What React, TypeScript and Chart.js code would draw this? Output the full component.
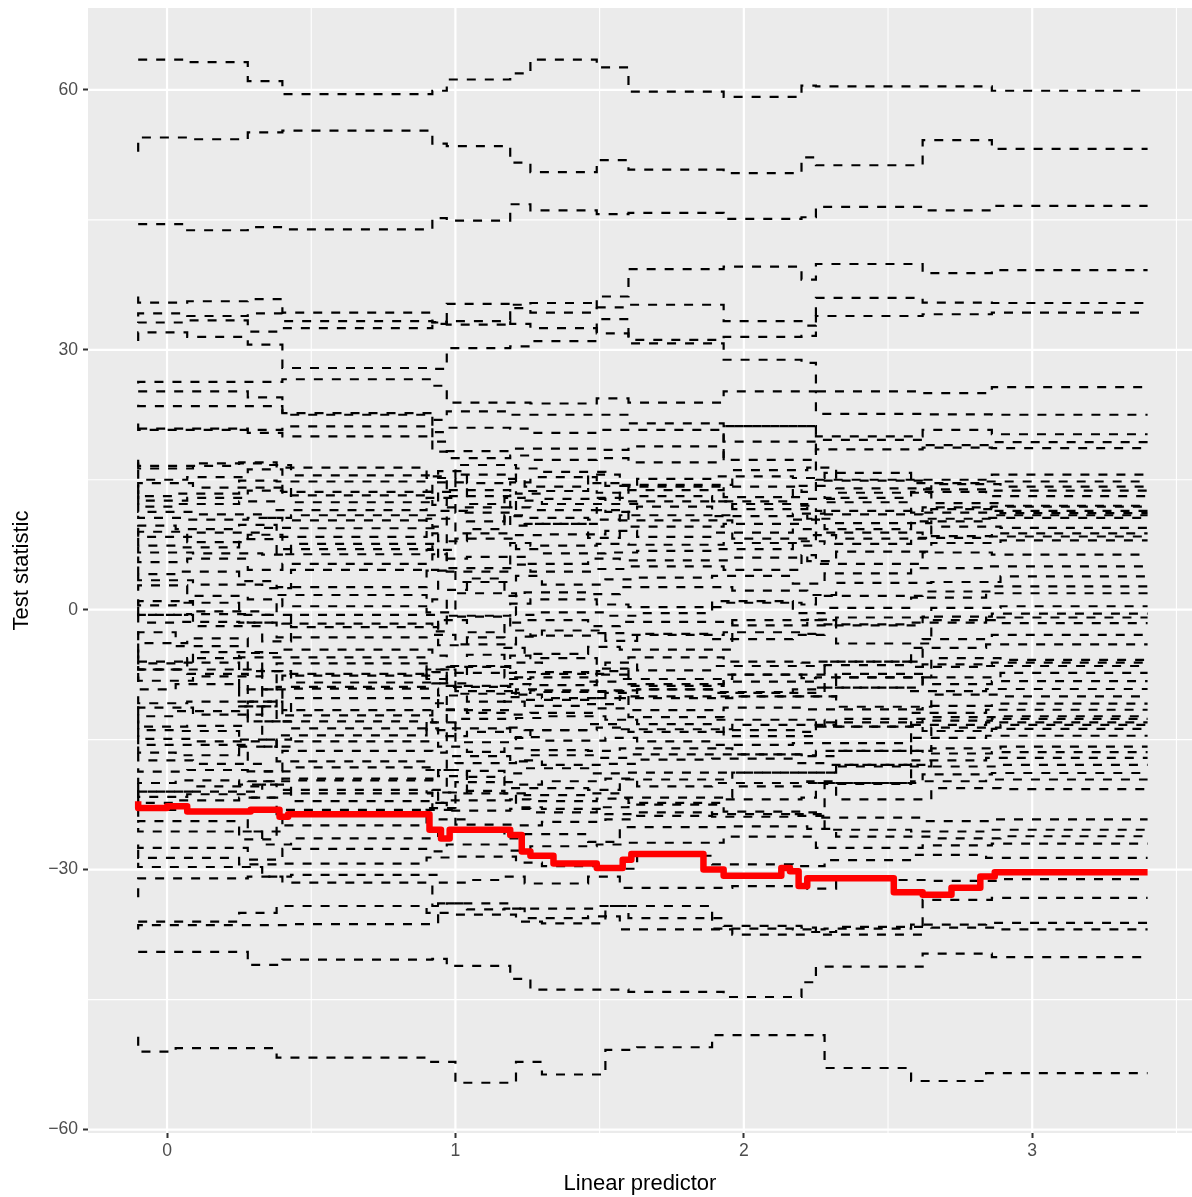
import React, { useEffect, useRef } from "react";
import { Chart, registerables } from "chart.js";

Chart.register(...registerables);

// ---- axis ranges & ticks ----
const X_MIN = -0.274;
const X_MAX = 3.554;
const Y_MIN = -60.4;
const Y_MAX = 69.45;
const X_TICKS = [0, 1, 2, 3];
const X_MINOR = [0.5, 1.5, 2.5, 3.5];
const Y_TICKS = [-60, -30, 0, 30, 60];
const Y_MINOR = [-45, -15, 15, 45];

// ---- step positions (linear predictor values where the permuted statistics change) ----
const X_BREAKS_A = [-0.1, 0.07, 0.28, 0.4, 0.92, 0.97, 1.19, 1.26, 1.49, 1.6, 1.93, 2.2, 2.25, 2.62, 2.86, 3.1, 3.4];
const X_BREAKS_B = [-0.1, 0.03, 0.25, 0.38, 0.9, 1.0, 1.21, 1.3, 1.52, 1.63, 1.89, 2.17, 2.28, 2.58, 2.84, 3.05, 3.4];
const X_BREAKS_C = [-0.1, 0.09, 0.33, 0.43, 0.94, 1.04, 1.17, 1.24, 1.46, 1.57, 1.96, 2.22, 2.32, 2.65, 2.89, 3.14, 3.4];

// ---- observed statistic (red) ----
const RED_X = [-0.1, 0.0, 0.07, 0.29, 0.39, 0.42, 0.91, 0.95, 0.98, 1.19, 1.23, 1.26, 1.34, 1.49, 1.58, 1.61, 1.86, 1.93, 2.13, 2.16, 2.19, 2.22, 2.52, 2.62, 2.72, 2.82, 2.87, 3.1, 3.4];
const RED_Y = [-22.1, -22.9, -22.7, -23.3, -23.1, -23.9, -23.6, -25.4, -26.4, -25.4, -26.0, -27.9, -28.4, -29.3, -29.8, -28.85, -28.2, -30.0, -30.7, -29.8, -30.2, -31.9, -31.0, -32.6, -32.9, -32.1, -30.8, -30.3, -30.3];

// ---- permuted statistics (dashed), values per step segment ----
const TOP_LINES = [
  [63.5, 63.5, 63.2, 61.0, 59.5, 59.9, 61.2, 61.9, 63.5, 62.6, 59.8, 59.2, 60.5, 60.4, 60.4, 59.9],
  [52.85, 54.5, 54.3, 55.1, 55.3, 53.8, 53.5, 51.6, 50.5, 51.9, 50.8, 50.4, 52.2, 51.3, 54.2, 53.2],
  [44.5, 44.5, 43.8, 44.15, 43.9, 45.2, 44.9, 46.8, 46.1, 45.65, 45.8, 45.1, 45.3, 46.5, 46.1, 46.6],
  [36.15, 35.45, 35.6, 35.85, 34.3, 33.15, 35.3, 34.8, 34.3, 36.15, 39.3, 39.6, 38.1, 39.9, 38.85, 39.2],
  [33.85, 34.2, 33.9, 34.2, 33.3, 33.2, 32.9, 35.2, 35.4, 34.9, 35.2, 33.3, 32.8, 36.0, 35.45, 35.4],
  [33.1, 33.15, 33.4, 32.1, 32.5, 33.0, 33.3, 33.0, 32.5, 31.9, 31.15, 31.5, 31.6, 33.9, 34.1, 34.3],
  [31.0, 32.0, 31.5, 30.6, 27.9, 27.8, 30.2, 30.4, 31.0, 33.55, 30.75, 28.85, 28.5, 25.2, 25.0, 25.7],
];

const UPPER_LINES = [
  [26.1, 26.3, 26.3, 26.3, 26.6, 25.85, 23.9, 23.9, 23.8, 24.4, 23.9, 25.2, 25.2, 22.6, 22.55, 22.5],
  [25.2, 25.2, 25.2, 24.5, 22.7, 21.9, 22.9, 22.5, 22.5, 22.5, 21.5, 21.2, 21.2, 20.0, 20.75, 20.25],
  [23.65, 23.5, 23.5, 23.5, 22.5, 20.5, 21.0, 20.9, 20.4, 20.75, 20.75, 19.4, 19.4, 19.6, 19.0, 19.35],
  [21.5, 20.75, 20.75, 20.75, 21.15, 19.4, 18.3, 18.6, 18.6, 18.45, 18.85, 17.3, 17.3, 18.5, 18.7, 18.65],
  [20.9, 20.9, 20.9, 20.4, 20.0, 18.25, 17.5, 17.8, 17.3, 17.5, 17.0, 21.2, 21.2, 15.0, 15.0, 15.6],
];

const DENSE_LINES_A = [
  [17.3, 16.6, 16.6, 17.0, 16.4, 15.2, 16.7, 16.3, 15.9, 14.3, 15.1, 15.4, 15.2, 15.8, 14.6, 14.8],
  [17.0, 16.3, 16.9, 16.7, 15.5, 16.0, 14.6, 15.1, 14.2, 15.6, 14.4, 16.1, 16.4, 14.0, 14.5, 14.2],
  [16.15, 15.0, 15.3, 16.2, 13.2, 15.4, 13.1, 14.7, 15.3, 13.5, 13.8, 14.2, 13.6, 14.9, 13.9, 13.75],
  [14.4, 13.1, 13.4, 14.9, 14.8, 13.6, 15.6, 13.4, 12.8, 12.2, 13.1, 12.5, 14.3, 12.9, 13.6, 13.1],
  [14.1, 14.6, 14.1, 14.1, 12.4, 14.7, 12.2, 12.9, 13.7, 14.6, 12.5, 11.6, 12.8, 13.5, 12.3, 12.0],
  [13.8, 12.6, 12.9, 13.75, 13.6, 12.1, 13.8, 11.8, 11.5, 12.9, 14.2, 13.0, 12.0, 11.4, 11.8, 11.9],
  [13.15, 11.9, 12.2, 12.5, 11.5, 12.9, 11.2, 12.6, 12.2, 11.3, 11.9, 10.8, 11.1, 12.4, 11.2, 11.4],
  [12.3, 11.3, 11.0, 10.6, 10.9, 11.4, 10.2, 10.9, 10.6, 10.4, 10.9, 12.2, 10.5, 10.0, 11.6, 11.15],
  [10.85, 10.6, 10.4, 10.6, 10.3, 9.6, 11.8, 9.7, 9.9, 11.5, 9.6, 9.9, 9.3, 11.0, 10.5, 10.9],
  [9.8, 9.7, 9.3, 9.8, 8.4, 10.5, 8.8, 8.6, 8.7, 9.1, 8.4, 8.9, 10.4, 9.3, 10.2, 10.6],
  [9.45, 8.4, 8.9, 9.45, 9.4, 7.9, 9.3, 10.8, 9.9, 8.3, 10.3, 8.2, 8.6, 8.2, 9.6, 9.45],
  [8.65, 9.0, 7.8, 8.65, 7.0, 8.8, 4.4, 7.7, 7.4, 7.6, 7.5, 7.7, 7.4, 8.9, 8.5, 8.8],
  [8.3, 7.4, 7.2, 8.15, 6.4, 6.9, 8.2, 7.0, 6.5, 6.6, 6.8, 7.0, 7.9, 7.6, 8.3, 8.45],
  [7.3, 6.6, 6.5, 6.35, 7.6, 5.9, 6.1, 6.1, 5.3, 5.9, 5.7, 6.0, 5.6, 6.7, 7.7, 8.0],
  [6.15, 5.5, 5.9, 4.6, 5.3, 6.4, 4.8, 5.2, 4.4, 4.7, 5.0, 4.6, 6.3, 5.3, 6.6, 6.35],
  [5.0, 4.1, 4.4, 3.3, 2.6, 4.5, 3.2, 3.9, 2.9, 3.5, 3.7, 3.9, 3.0, 4.2, 4.8, 5.0],
  [4.0, 3.4, 2.9, 2.5, 4.6, 2.3, 3.6, 1.6, 2.0, 1.8, 2.6, 2.2, 1.7, 3.1, 3.2, 3.85],
  [2.2, 2.8, 1.6, 1.2, 0.4, 1.2, -0.7, 0.7, 1.2, 0.6, 0.3, 0.8, 0.6, 1.6, 2.1, 2.7],
  [1.2, 0.5, 0.8, -0.6, 1.7, -0.3, 1.9, -0.6, -0.3, -0.7, -0.4, 1.0, -0.4, 0.2, 1.4, 1.9],
  [0.6, 1.0, -0.2, -0.6, -2.0, -1.2, -2.6, -1.5, -1.2, -1.9, -1.4, -1.8, -1.2, -0.9, 0.2, 0.4],
  [0.35, -0.6, -0.5, -1.5, -1.6, -2.5, -0.8, -2.4, -3.0, -2.7, -2.9, -2.6, -2.8, -1.8, -0.8, -0.45],
];

const DENSE_LINES_B = [
  [-0.45, -1.5, -1.4, -1.5, -3.2, -2.9, -4.0, -3.1, -2.4, -3.6, -2.8, -3.4, -2.9, -1.7, -1.5, -0.9],
  [-0.75, -0.6, -1.9, -3.65, -0.6, -4.1, -3.2, -4.4, -5.1, -4.3, -4.6, -1.2, -1.15, -3.9, -1.2, -1.55],
  [-2.5, -3.85, -3.3, -5.0, -4.6, -5.3, -6.6, -5.3, -5.6, -6.8, -5.5, -6.0, -6.1, -6.0, -3.4, -2.9],
  [-2.9, -2.6, -4.2, -5.5, -5.5, -6.9, -7.3, -6.1, -7.4, -6.1, -7.0, -6.5, -6.5, -6.4, -4.4, -4.0],
  [-3.9, -6.0, -4.9, -7.1, -8.4, -8.5, -5.2, -7.8, -7.2, -8.3, -8.0, -7.5, -7.5, -7.8, -5.6, -5.8],
  [-4.6, -6.9, -5.6, -7.1, -7.4, -7.2, -8.9, -8.6, -8.7, -7.5, -8.6, -8.3, -8.3, -9.0, -6.3, -6.1],
  [-5.3, -6.2, -6.1, -9.2, -6.2, -8.0, -9.7, -9.2, -9.5, -9.3, -9.2, -9.6, -9.6, -6.0, -6.6, -6.5],
  [-6.5, -6.9, -6.9, -9.2, -9.1, -9.9, -10.6, -10.1, -10.4, -10.2, -10.0, -10.0, -10.0, -7.4, -7.8, -7.3],
  [-7.0, -6.9, -7.4, -10.6, -7.6, -8.5, -6.5, -8.0, -7.8, -7.1, -8.8, -7.5, -7.9, -7.8, -8.6, -8.25],
  [-7.3, -9.2, -8.6, -11.15, -8.9, -6.9, -9.4, -9.8, -10.2, -9.6, -9.2, -9.5, -9.2, -9.0, -9.4, -9.15],
  [-7.7, -8.2, -7.7, -12.9, -10.2, -11.5, -11.9, -10.6, -11.1, -10.9, -10.2, -10.0, -10.0, -11.2, -9.8, -10.0],
  [-10.0, -10.8, -10.6, -12.9, -11.6, -13.0, -8.8, -9.6, -9.3, -9.4, -11.6, -11.3, -11.5, -11.5, -11.1, -10.85],
  [-11.15, -12.3, -11.7, -11.15, -12.9, -13.9, -12.6, -12.5, -12.3, -12.7, -13.2, -12.7, -12.7, -13.5, -11.9, -11.55],
  [-11.5, -11.3, -12.1, -15.0, -13.7, -14.6, -14.1, -13.6, -13.9, -13.2, -13.8, -13.3, -13.3, -12.6, -12.4, -12.3],
  [-12.1, -13.5, -13.4, -10.6, -12.2, -10.8, -11.6, -12.1, -11.9, -11.4, -12.4, -14.6, -14.6, -13.0, -12.8, -12.6],
  [-12.8, -13.9, -14.0, -15.8, -14.5, -13.0, -15.3, -14.7, -15.1, -14.8, -15.2, -15.6, -15.4, -15.4, -13.3, -13.0],
  [-13.65, -14.9, -15.2, -15.8, -15.2, -15.8, -16.4, -16.0, -16.2, -16.3, -16.0, -16.7, -16.9, -16.3, -13.6, -13.3],
  [-14.5, -15.6, -15.6, -18.65, -16.3, -16.5, -13.7, -14.8, -13.9, -13.6, -14.1, -13.9, -14.1, -13.5, -14.0, -13.75],
  [-15.8, -16.5, -16.8, -15.0, -17.5, -18.5, -17.7, -17.4, -17.9, -17.8, -17.3, -17.2, -17.7, -17.9, -14.8, -14.55],
  [-16.5, -17.4, -17.8, -18.65, -18.2, -19.2, -18.6, -18.9, -18.3, -18.9, -18.8, -18.8, -18.8, -18.1, -16.0, -15.8],
  [-18.3, -18.7, -18.5, -19.8, -19.5, -20.8, -16.9, -17.5, -16.8, -17.1, -16.7, -16.7, -16.8, -16.3, -16.6, -16.45],
  [-19.4, -20.0, -19.7, -20.2, -20.8, -21.1, -19.9, -20.2, -19.8, -19.5, -20.4, -20.0, -20.0, -20.0, -17.4, -17.1],
  [-20.0, -21.0, -20.4, -19.8, -19.7, -18.5, -20.9, -21.2, -20.6, -20.8, -19.6, -18.8, -18.8, -17.9, -18.1, -17.9],
  [-20.8, -21.6, -21.3, -21.7, -21.2, -22.3, -22.0, -21.9, -22.1, -21.8, -22.3, -21.9, -21.7, -20.0, -19.0, -18.85],
  [-21.1, -22.3, -22.0, -21.7, -23.6, -23.1, -21.2, -22.8, -23.0, -23.6, -23.4, -23.6, -23.8, -20.1, -19.8, -19.6],
  [-23.1, -21.0, -21.0, -20.2, -22.1, -21.1, -19.3, -20.6, -21.4, -21.2, -21.7, -20.4, -19.8, -21.9, -20.6, -20.7],
];

const LOWER_LINES = [
  [-23.9, -23.1, -23.4, -25.6, -23.1, -22.3, -23.2, -23.0, -23.4, -22.8, -22.5, -23.3, -23.4, -24.0, -24.4, -24.2],
  [-24.6, -24.4, -24.4, -26.5, -24.9, -22.9, -24.8, -24.9, -24.5, -24.2, -23.8, -23.9, -23.6, -25.4, -25.6, -25.4],
  [-25.2, -25.6, -25.6, -27.1, -26.4, -24.2, -25.5, -26.4, -25.9, -26.8, -25.1, -25.0, -25.3, -26.2, -26.4, -26.15],
  [-27.1, -27.5, -27.5, -28.85, -27.6, -27.9, -27.1, -27.8, -27.3, -27.1, -26.9, -26.2, -26.2, -27.5, -27.2, -27.0],
  [-27.7, -28.65, -28.65, -29.4, -29.3, -28.6, -28.5, -29.2, -29.6, -29.9, -28.4, -29.4, -29.6, -28.9, -28.3, -28.65],
  [-29.2, -29.7, -29.7, -30.8, -30.6, -31.5, -31.2, -30.8, -31.6, -30.8, -32.1, -31.9, -32.2, -31.2, -31.3, -31.1],
  [-33.2, -31.0, -31.0, -30.8, -31.5, -34.2, -33.9, -34.5, -34.5, -34.2, -35.6, -36.5, -36.7, -37.5, -33.5, -33.25],
  [-36.0, -36.0, -36.0, -35.0, -34.2, -35.0, -35.2, -36.0, -36.2, -34.2, -34.2, -36.8, -36.9, -36.8, -36.35, -36.15],
  [-36.9, -36.4, -36.4, -36.4, -36.3, -33.9, -34.6, -34.5, -35.6, -35.4, -36.9, -37.5, -37.2, -36.6, -36.7, -36.9],
  [-39.5, -39.5, -39.5, -41.0, -40.4, -40.3, -41.1, -42.6, -43.85, -43.85, -44.1, -44.7, -43.0, -41.2, -39.7, -40.1],
  [-49.3, -51.0, -50.6, -50.6, -51.7, -52.2, -54.6, -52.2, -53.65, -50.8, -50.5, -49.1, -49.1, -52.9, -54.4, -53.5],
];

const X_TITLE = "Linear predictor";
const Y_TITLE = "Test statistic";

const FONT_FAMILY = "'Liberation Sans', Arial, Helvetica, sans-serif";

function fmt(v: number): string {
  return v < 0 ? "\u2212" + Math.abs(v) : String(v);
}

const ggPanel = {
  id: "ggPanel",
  beforeDatasetsDraw(chart: any) {
    const { ctx, chartArea: a, scales } = chart;
    const xs = scales.x;
    const ys = scales.y;
    ctx.save();
    ctx.fillStyle = "#EBEBEB";
    ctx.fillRect(a.left, a.top, a.right - a.left, a.bottom - a.top);
    ctx.strokeStyle = "#FFFFFF";
    const vline = (v: number) => {
      const p = xs.getPixelForValue(v);
      if (p < a.left || p > a.right) return;
      ctx.beginPath();
      ctx.moveTo(p, a.top);
      ctx.lineTo(p, a.bottom);
      ctx.stroke();
    };
    const hline = (v: number) => {
      const p = ys.getPixelForValue(v);
      if (p < a.top || p > a.bottom) return;
      ctx.beginPath();
      ctx.moveTo(a.left, p);
      ctx.lineTo(a.right, p);
      ctx.stroke();
    };
    ctx.lineWidth = 1.1;
    X_MINOR.forEach(vline);
    Y_MINOR.forEach(hline);
    ctx.lineWidth = 2.2;
    X_TICKS.forEach(vline);
    Y_TICKS.forEach(hline);
    ctx.restore();
  },
};

export default function App() {
  const ref = useRef<HTMLCanvasElement | null>(null);

  useEffect(() => {
    const canvas = ref.current;
    if (!canvas) return;
    const allLines = [...TOP_LINES, ...UPPER_LINES, ...DENSE_LINES_A, ...DENSE_LINES_B, ...LOWER_LINES];
    const nFixed = TOP_LINES.length + UPPER_LINES.length;
    const blackSets = allLines.map((vals, i) => {
      const xb = i < nFixed ? X_BREAKS_A : [X_BREAKS_B, X_BREAKS_C, X_BREAKS_A][i % 3];
      return {
        data: xb.map((x, k) => ({ x, y: vals[Math.min(k, vals.length - 1)] })),
        borderColor: "#000000",
        borderWidth: 2.2,
        borderDash: [9, 9],
        stepped: "after" as const,
        pointRadius: 0,
        fill: false,
        order: 1,
      };
    });
    const redSet = {
      data: RED_X.map((x, k) => ({ x, y: RED_Y[k] })),
      borderColor: "#FF0000",
      borderWidth: 6.5,
      stepped: "after" as const,
      pointRadius: 0,
      fill: false,
      borderJoinStyle: "round" as const,
      borderCapStyle: "butt" as const,
      order: 0,
    };

    const tickFont = { family: FONT_FAMILY, size: 17.6 };
    const titleFont = { family: FONT_FAMILY, size: 22 };

    const chart = new Chart(canvas, {
      type: "line",
      data: { datasets: [redSet, ...blackSets] as any },
      options: {
        animation: false,
        responsive: false,
        devicePixelRatio: 1,
        layout: { padding: { top: 8, right: 0, bottom: 0, left: 0 } },
        plugins: { legend: { display: false }, tooltip: { enabled: false } },
        elements: { point: { radius: 0 }, line: { tension: 0 } },
        scales: {
          x: {
            type: "linear",
            min: X_MIN,
            max: X_MAX,
            afterBuildTicks: (s: any) => {
              s.ticks = X_TICKS.map((v) => ({ value: v }));
            },
            afterFit: (s: any) => {
              s.height = 64;
              s.paddingLeft = 0;
              s.paddingRight = 0;
            },
            ticks: {
              font: tickFont,
              color: "#4D4D4D",
              padding: 3,
              maxRotation: 0,
              autoSkip: false,
              callback: (v: any) => fmt(Number(v)),
            },
            grid: {
              drawOnChartArea: false,
              drawTicks: true,
              tickLength: 5,
              tickColor: "#333333",
              tickWidth: 2,
            },
            border: { display: false },
            title: {
              display: true,
              text: X_TITLE,
              font: titleFont,
              color: "#000000",
              padding: { top: 3.8, bottom: 0 },
            },
          },
          y: {
            type: "linear",
            min: Y_MIN,
            max: Y_MAX,
            afterBuildTicks: (s: any) => {
              s.ticks = Y_TICKS.map((v) => ({ value: v }));
            },
            afterFit: (s: any) => {
              s.width = 88;
              s.paddingTop = 0;
              s.paddingBottom = 0;
            },
            ticks: {
              font: tickFont,
              color: "#4D4D4D",
              padding: 5,
              autoSkip: false,
              callback: (v: any) => fmt(Number(v)),
            },
            grid: {
              drawOnChartArea: false,
              drawTicks: true,
              tickLength: 5,
              tickColor: "#333333",
              tickWidth: 2,
            },
            border: { display: false },
            title: {
              display: true,
              text: Y_TITLE,
              font: titleFont,
              color: "#000000",
              padding: { top: 8.8, bottom: 0 },
            },
          },
        },
      } as any,
      plugins: [ggPanel],
    });
    return () => chart.destroy();
  }, []);

  return (
    <canvas
      ref={ref}
      width={1192}
      height={1197}
      style={{ position: "absolute", left: 0, top: 0, width: 1192, height: 1197, background: "#FFFFFF" }}
    />
  );
}
